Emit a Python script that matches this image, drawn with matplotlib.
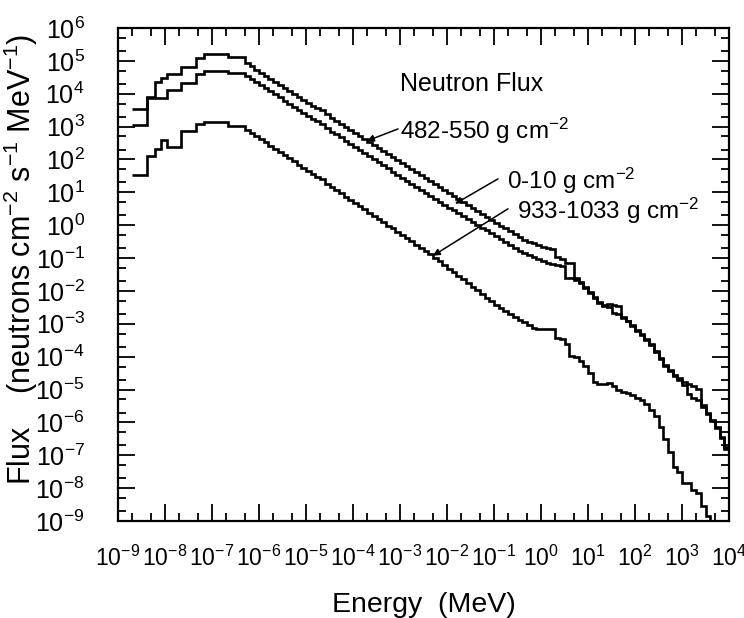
import numpy as np
import matplotlib
matplotlib.use("Agg")
import matplotlib.pyplot as plt
from matplotlib.ticker import LogLocator, NullFormatter

plt.rcParams['font.family'] = ['Liberation Sans', 'DejaVu Sans']
plt.rcParams['mathtext.default'] = 'regular'

# log10 of the energy bin edges (MeV), shared by the three spectra
log_energy_edges = [
    -8.70, -8.38, -8.22, -8.08, -7.95, -7.67, -7.33, -7.17, -6.66, -6.30,
    -6.2, -6.1, -6.0, -5.9, -5.8, -5.7, -5.6, -5.5, -5.4, -5.3,
    -5.2, -5.1, -5.0, -4.9, -4.8, -4.7, -4.6, -4.5, -4.4, -4.3,
    -4.2, -4.1, -4.0, -3.9, -3.8, -3.7, -3.6, -3.5, -3.4, -3.3,
    -3.2, -3.1, -3.0, -2.9, -2.8, -2.7, -2.6, -2.5, -2.4, -2.3,
    -2.2, -2.1, -2.0, -1.9, -1.8, -1.7, -1.6, -1.5, -1.4, -1.3,
    -1.2, -1.1, -1.0, -0.9, -0.8, -0.7, -0.6, -0.5, -0.4, -0.3,
    -0.2, -0.1, 0.0, 0.1,
    0.2, 0.3, 0.4, 0.5, 0.6, 0.7, 0.8, 0.9, 1.0, 1.1,
    1.2, 1.3, 1.4, 1.5, 1.6, 1.7, 1.8, 1.9, 2.0, 2.1,
    2.2, 2.3, 2.4, 2.5, 2.6, 2.7, 2.8, 2.9, 3.0, 3.1,
    3.2, 3.3, 3.4, 3.5, 3.6, 3.7, 3.8, 3.9, 4.0,
]

# log10 of the flux in each bin
log_flux_482_550 = [
    3.53, 3.90, 4.37, 4.47, 4.59, 4.82, 5.08, 5.20, 5.13,
    4.92, 4.83, 4.73, 4.64, 4.55, 4.46, 4.37, 4.28, 4.18, 4.09,
    4.00, 3.91, 3.82, 3.73, 3.63, 3.56, 3.49, 3.37, 3.27, 3.18,
    3.08, 2.99, 2.90, 2.81, 2.72, 2.62, 2.53, 2.44, 2.35, 2.26,
    2.17, 2.07, 1.98, 1.89, 1.80, 1.71, 1.62, 1.52, 1.43, 1.34,
    1.25, 1.16, 1.07, 0.98, 0.89, 0.80, 0.71, 0.62, 0.53, 0.44,
    0.35, 0.26, 0.17, 0.08, -0.01, -0.10, -0.19, -0.28, -0.37, -0.44,
    -0.50, -0.55, -0.60, -0.65,
    -0.70, -0.72, -0.98, -1.02, -1.14, -1.16, -1.62, -1.72, -1.88, -2.03,
    -2.19, -2.34, -2.42, -2.40, -2.42, -2.45, -2.78, -2.90, -3.05, -3.18,
    -3.32, -3.45, -3.62, -3.82, -4.05, -4.25, -4.42, -4.55, -4.65, -4.78,
    -4.82, -4.90, -4.98, -5.48, -5.70, -5.92, -6.15, -6.45, -6.75,
]
log_flux_0_10 = [
    3.04, 3.86, 3.86, 3.86, 4.11, 4.34, 4.59, 4.69, 4.62,
    4.55, 4.45, 4.36, 4.26, 4.17, 4.08, 3.98, 3.89, 3.79, 3.70,
    3.61, 3.51, 3.42, 3.32, 3.23, 3.16, 3.09, 2.95, 2.85, 2.76,
    2.67, 2.57, 2.48, 2.38, 2.29, 2.20, 2.10, 2.01, 1.91, 1.82,
    1.73, 1.63, 1.54, 1.44, 1.35, 1.26, 1.16, 1.07, 0.97, 0.88,
    0.79, 0.71, 0.62, 0.53, 0.45, 0.36, 0.27, 0.19, 0.10, 0.01,
    -0.08, -0.16, -0.25, -0.34, -0.42, -0.51, -0.60, -0.68, -0.77, -0.84,
    -0.91, -0.97, -1.03, -1.08,
    -1.14, -1.17, -1.20, -1.23, -1.60, -1.60, -1.66, -1.75, -1.90, -2.06,
    -2.22, -2.37, -2.45, -2.48, -2.68, -2.70, -2.82, -2.93, -3.07, -3.22,
    -3.35, -3.48, -3.65, -3.85, -4.08, -4.27, -4.45, -4.58, -4.70, -4.85,
    -5.15, -5.25, -5.32, -5.52, -5.73, -5.95, -6.18, -6.48, -6.80,
]
log_flux_933_1033 = [
    1.53, 2.11, 2.31, 2.60, 2.39, 2.87, 3.07, 3.14, 3.02,
    2.91, 2.81, 2.72, 2.62, 2.52, 2.42, 2.33, 2.23, 2.13, 2.04,
    1.94, 1.84, 1.74, 1.65, 1.55, 1.47, 1.40, 1.26, 1.16, 1.06,
    0.97, 0.87, 0.77, 0.67, 0.58, 0.48, 0.38, 0.28, 0.19, 0.09,
    -0.01, -0.10, -0.20, -0.30, -0.40, -0.49, -0.59, -0.69, -0.79, -0.88,
    -0.99, -1.10, -1.21, -1.32, -1.43, -1.54, -1.65, -1.76, -1.87, -1.98,
    -2.09, -2.20, -2.31, -2.42, -2.53, -2.62, -2.70, -2.79, -2.88, -2.96,
    -3.05, -3.14, -3.15, -3.15,
    -3.15, -3.15, -3.42, -3.45, -3.62, -3.97, -4.00, -4.12, -4.28, -4.50,
    -4.78, -4.82, -4.82, -4.79, -4.90, -5.00, -5.06, -5.10, -5.18, -5.25,
    -5.32, -5.45, -5.62, -5.82, -6.15, -6.50, -6.90, -7.35, -7.50, -7.83,
    -7.83, -8.07, -8.15, -8.55, -8.85, -9.30,
]

edges = 10.0 ** np.array(log_energy_edges)

fig = plt.figure(figsize=(7.44, 6.18), dpi=100)
ax = fig.add_axes([118 / 744, 1 - 521 / 618, 611 / 744, 493 / 618])

for logf in (log_flux_482_550, log_flux_0_10, log_flux_933_1033):
    flux = 10.0 ** np.array(logf)
    ax.stairs(flux, edges[:len(flux) + 1], baseline=None, color='black', lw=1.9)

ax.set_xscale('log')
ax.set_yscale('log')
ax.set_xlim(1e-9, 1e4)
ax.set_ylim(1e-9, 1e6)

ax.xaxis.set_major_locator(LogLocator(base=10, numticks=30))
ax.yaxis.set_major_locator(LogLocator(base=10, numticks=30))
ax.xaxis.set_minor_locator(LogLocator(base=10, subs=(2, 5), numticks=60))
ax.yaxis.set_minor_locator(LogLocator(base=10, subs=(2, 5), numticks=60))
ax.xaxis.set_minor_formatter(NullFormatter())
ax.yaxis.set_minor_formatter(NullFormatter())

ax.tick_params(which='both', direction='in', top=True, right=True, width=1.3)
ax.tick_params(which='major', length=12)
ax.tick_params(which='minor', length=6)
ax.tick_params(axis='y', which='major', labelsize=18, pad=24)
ax.tick_params(axis='x', which='major', labelsize=16.5, pad=18)
for s in ax.spines.values():
    s.set_linewidth(1.6)

ax.set_xlabel('Energy  (MeV)', fontsize=20.5)
ax.set_ylabel('Flux    (neutrons cm$^{-2}$ s$^{-1}$ MeV$^{-1}$)', fontsize=22)
ax.xaxis.set_label_coords(0.5, -0.145)
ax.yaxis.set_label_coords(-0.128, 0.53)

ax.text(0.4615, 0.8865, 'Neutron Flux', transform=ax.transAxes, fontsize=18,
        ha='left', va='center')

labels = [
    ('482-550 g cm$^{-2}$', (0.4615, 0.791), (0.4583, 0.7953), (0.4075, 0.771)),
    ('0-10 g cm$^{-2}$', (0.6367, 0.690), (0.6219, 0.6940), (0.5516, 0.6434)),
    ('933-1033 g cm$^{-2}$', (0.653, 0.629), (0.6383, 0.6332), (0.5155, 0.5380)),
]
for txt, pos, start, tip in labels:
    ax.text(pos[0], pos[1], txt, transform=ax.transAxes, fontsize=17.5,
            ha='left', va='center')
    ax.annotate('', xy=tip, xytext=start, xycoords='axes fraction',
                textcoords='axes fraction',
                arrowprops=dict(arrowstyle='-|>', color='black', lw=1.1,
                                mutation_scale=10, shrinkA=0, shrinkB=0))

fig.savefig('out.png', dpi=100)
